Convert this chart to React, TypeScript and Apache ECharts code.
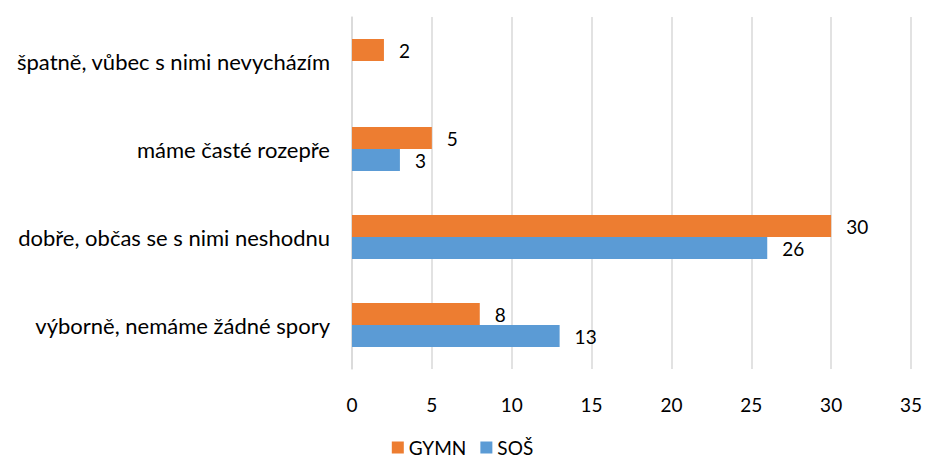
import React, { useEffect, useRef } from "react";
import * as echarts from "echarts";

const categories = [
  "výborně, nemáme žádné spory",
  "dobře, občas se s nimi neshodnu",
  "máme časté rozepře",
  "špatně, vůbec s nimi nevycházím",
];
const gymnValues: (number | null)[] = [8, 30, 5, 2];
const sosValues: (number | null)[] = [13, 26, 3, null];
const seriesNames = ["GYMN", "SOŠ"];
const colors = ["#ED7D31", "#5B9BD5"];

const FONT = "Lato, 'Open Sans', sans-serif";

export default function App() {
  const ref = useRef<HTMLDivElement>(null);
  useEffect(() => {
    if (!ref.current) return;
    const chart = echarts.init(ref.current, undefined, { renderer: "svg" });
    const label = {
      show: true,
      position: "right" as const,
      distance: 15,
      color: "#000",
      fontSize: 19,
      fontFamily: FONT,
    };
    chart.setOption({
      animation: false,
      textStyle: { fontFamily: FONT },
      grid: { left: 352, right: 12, top: 17, bottom: 93, containLabel: false },
      legend: {
        bottom: 0,
        left: "center",
        itemWidth: 12,
        itemHeight: 12,
        itemGap: 14,
        icon: "rect",
        textStyle: { fontSize: 19, color: "#000", fontFamily: FONT },
        data: [seriesNames[0], seriesNames[1]],
      },
      xAxis: {
        type: "value",
        min: 0,
        max: 35,
        interval: 5,
        axisLine: { show: false },
        axisTick: { show: false },
        splitLine: { show: true, lineStyle: { color: "#d9d9d9", width: 1.5 } },
        axisLabel: { color: "#000", fontSize: 19, fontFamily: FONT, margin: 26 },
      },
      yAxis: {
        type: "category",
        data: categories,
        axisLine: { show: true, lineStyle: { color: "#d9d9d9", width: 1.5 } },
        axisTick: { show: false },
        axisLabel: { color: "#000", fontSize: 22, fontFamily: FONT, margin: 22 },
      },
      series: [
        {
          name: seriesNames[0],
          type: "bar",
          data: gymnValues,
          barWidth: 22,
          barGap: "0%",
          itemStyle: { color: colors[0] },
          label,
        },
        {
          name: seriesNames[1],
          type: "bar",
          data: sosValues,
          barWidth: 22,
          barGap: "0%",
          itemStyle: { color: colors[1] },
          label,
        },
      ],
    });
    return () => chart.dispose();
  }, []);
  return <div ref={ref} style={{ width: 925, height: 462, position: "absolute", left: 0, top: 0 }} />;
}
